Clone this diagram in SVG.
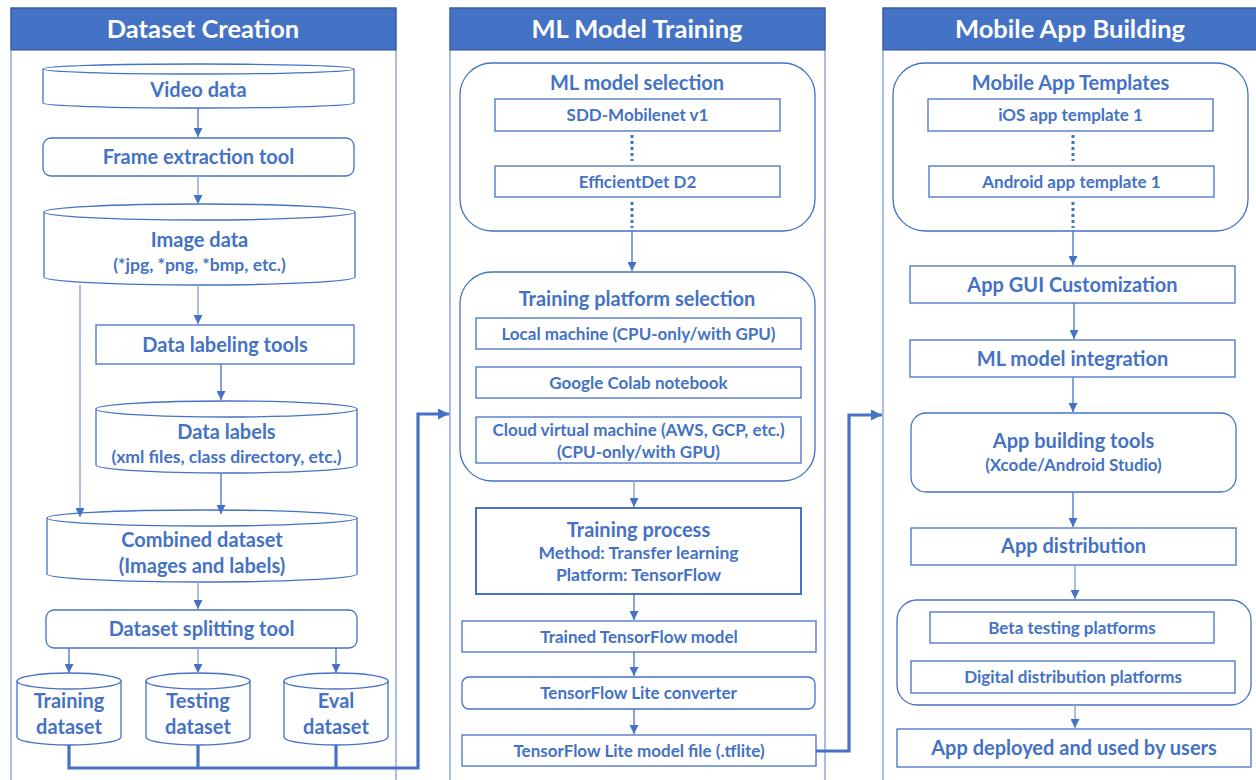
<svg xmlns="http://www.w3.org/2000/svg" width="1256" height="780" viewBox="0 0 1256 780">
<style>
text{font-family:Lato,"Liberation Sans",sans-serif;font-weight:bold;fill:#4472C4;text-anchor:middle}
.hd{fill:#fff;font-size:25.5px}
.t{font-size:20px}
.s{font-size:17.5px}
.m{font-size:17px}
.b{fill:#fff;stroke:#4472C4;stroke-width:1.3}
.b2{fill:#fff;stroke:#4472C4;stroke-width:2}
.pan{fill:#fff;stroke:#8EA9DB;stroke-width:1.5}
.hdr{fill:#4472C4;stroke:#2F528F;stroke-width:1}
.c{fill:none;stroke:#4472C4;stroke-width:1.3}
.cl{fill:none;stroke:#8EA9DB;stroke-width:1.5}
.dot{fill:none;stroke:#4472C4;stroke-width:3;stroke-dasharray:3 3}
.thick{fill:none;stroke:#4472C4;stroke-width:3.2}
</style>
<defs>
<marker id="a" viewBox="0 0 10 10" refX="10" refY="5" markerWidth="9" markerHeight="9" markerUnits="userSpaceOnUse" orient="auto"><path d="M0,0 L10,5 L0,10 z" fill="#4472C4"/></marker>
<marker id="A" viewBox="0 0 10 10" refX="10" refY="5" markerWidth="11" markerHeight="11" markerUnits="userSpaceOnUse" orient="auto"><path d="M0,0 L10,5 L0,10 z" fill="#4472C4"/></marker>
</defs>

<g id="panels">
<rect class="pan" x="11" y="8" width="385" height="790"/>
<rect class="hdr" x="11" y="8" width="385" height="42"/>
<text class="hd" x="203" y="38">Dataset Creation</text>
<rect class="pan" x="450" y="8" width="375" height="790"/>
<rect class="hdr" x="450" y="8" width="375" height="42"/>
<text class="hd" x="637" y="38">ML Model Training</text>
<rect class="pan" x="883" y="8" width="390" height="790"/>
<rect class="hdr" x="883" y="8" width="390" height="42"/>
<text class="hd" x="1070" y="38">Mobile App Building</text>
</g>

<!-- Left column -->
<g id="video-data">
<path class="b" d="M43 69 V103 A155.5 5 0 0 0 354 103 V69"/>
<ellipse class="b" cx="198.5" cy="69" rx="155.5" ry="5"/>
<text class="t" x="198.5" y="97">Video data</text>
</g>
<g id="frame-extraction">
<rect class="b" x="43" y="138" width="311" height="38" rx="8"/>
<text class="t" x="198.5" y="164">Frame extraction tool</text>
</g>
<g id="image-data">
<path class="b" d="M44 212 V277 A155.5 8 0 0 0 355 277 V212"/>
<ellipse class="b" cx="199.5" cy="212" rx="155.5" ry="8"/>
<text class="t" x="199.5" y="246.5">Image data</text>
<text class="s" x="199.5" y="271">(*jpg, *png, *bmp, etc.)</text>
</g>
<g id="data-labeling">
<rect class="b" x="96" y="325" width="258" height="39"/>
<text class="t" x="225" y="351.5">Data labeling tools</text>
</g>
<g id="data-labels">
<path class="b" d="M96 409 V465 A130.5 8 0 0 0 357 465 V409"/>
<ellipse class="b" cx="226.5" cy="409" rx="130.5" ry="8"/>
<text class="t" x="226.5" y="439">Data labels</text>
<text class="s" x="226.5" y="462.5">(xml files, class directory, etc.)</text>
</g>
<g id="combined-dataset">
<path class="b" d="M47 518 V574 A155 8 0 0 0 357 574 V518"/>
<ellipse class="b" cx="202" cy="518" rx="155" ry="8"/>
<text class="t" x="202" y="547">Combined dataset</text>
<text class="t" x="202" y="572.5">(Images and labels)</text>
</g>
<g id="splitting-tool">
<rect class="b" x="46" y="610" width="311" height="38" rx="8"/>
<text class="t" x="201.5" y="636">Dataset splitting tool</text>
</g>
<g id="training-dataset">
<path class="b" d="M17 681 V737 A52 8 0 0 0 121 737 V681"/>
<ellipse class="b" cx="69" cy="681" rx="52" ry="8"/>
<text class="t" x="69" y="708">Training</text>
<text class="t" x="69" y="733.5">dataset</text>
</g>
<g id="testing-dataset">
<path class="b" d="M146 681 V737 A52 8 0 0 0 250 737 V681"/>
<ellipse class="b" cx="198" cy="681" rx="52" ry="8"/>
<text class="t" x="198" y="708">Testing</text>
<text class="t" x="198" y="733.5">dataset</text>
</g>
<g id="eval-dataset">
<path class="b" d="M284 681 V737 A52 8 0 0 0 388 737 V681"/>
<ellipse class="b" cx="336" cy="681" rx="52" ry="8"/>
<text class="t" x="336" y="708">Eval</text>
<text class="t" x="336" y="733.5">dataset</text>
</g>

<!-- Middle column -->
<g id="ml-model-selection">
<rect class="b" x="460" y="63" width="355" height="168" rx="32"/>
<text class="t" x="637" y="90">ML model selection</text>
</g>
<g id="sdd-mobilenet">
<rect class="b" x="495" y="99" width="285" height="32"/>
<text class="m" x="637.5" y="121">SDD-Mobilenet v1</text>
</g>
<g id="efficientdet">
<rect class="b" x="495" y="166" width="285" height="31"/>
<text class="m" x="637.5" y="187.5">EfficientDet D2</text>
</g>
<g id="training-platform-selection">
<rect class="b" x="460" y="272" width="355" height="209" rx="32"/>
<text class="t" x="637" y="306">Training platform selection</text>
</g>
<g id="local-machine">
<rect class="b" x="476" y="318" width="325" height="31"/>
<text class="m" x="638.5" y="339.5">Local machine (CPU-only/with GPU)</text>
</g>
<g id="google-colab">
<rect class="b" x="476" y="367" width="325" height="31"/>
<text class="m" x="638.5" y="388.5">Google Colab notebook</text>
</g>
<g id="cloud-vm">
<rect class="b" x="476" y="417" width="325" height="46"/>
<text class="m" x="638.5" y="435.5">Cloud virtual machine (AWS, GCP, etc.)</text>
<text class="m" x="638.5" y="457.5">(CPU-only/with GPU)</text>
</g>
<g id="training-process">
<rect class="b2" x="476" y="508" width="325" height="86"/>
<text class="t" x="638.5" y="537">Training process</text>
<text class="s" x="638.5" y="559">Method: Transfer learning</text>
<text class="s" x="638.5" y="581">Platform: TensorFlow</text>
</g>
<g id="trained-model">
<rect class="b" x="462" y="621" width="354" height="31"/>
<text class="m" x="639" y="642.5">Trained TensorFlow model</text>
</g>
<g id="tflite-converter">
<rect class="b" x="462" y="677" width="353" height="32" rx="7"/>
<text class="m" x="638.5" y="699">TensorFlow Lite converter</text>
</g>
<g id="tflite-file">
<rect class="b" x="462" y="735" width="354" height="31"/>
<text class="m" x="639" y="756.5">TensorFlow Lite model file (.tflite)</text>
</g>

<!-- Right column -->
<g id="app-templates">
<rect class="b" x="893" y="63" width="355" height="168" rx="32"/>
<text class="t" x="1070.5" y="90">Mobile App Templates</text>
</g>
<g id="ios-template">
<rect class="b" x="928" y="99" width="285" height="32"/>
<text class="m" x="1070.5" y="121">iOS app template 1</text>
</g>
<g id="android-template">
<rect class="b" x="929" y="166" width="285" height="31"/>
<text class="m" x="1071.5" y="187.5">Android app template 1</text>
</g>
<g id="gui-customization">
<rect class="b" x="910" y="266" width="325" height="37"/>
<text class="t" x="1072.5" y="291.5">App GUI Customization</text>
</g>
<g id="ml-integration">
<rect class="b" x="910" y="340" width="325" height="37"/>
<text class="t" x="1072.5" y="365.5">ML model integration</text>
</g>
<g id="app-building-tools">
<rect class="b" x="911" y="413" width="325" height="79" rx="15"/>
<text class="t" x="1073.5" y="448">App building tools</text>
<text class="m" x="1073.5" y="471">(Xcode/Android Studio)</text>
</g>
<g id="app-distribution">
<rect class="b" x="911" y="528" width="325" height="37"/>
<text class="t" x="1073.5" y="553">App distribution</text>
</g>
<g id="distribution-platforms">
<rect class="b" x="897" y="600" width="354" height="105" rx="20"/>
</g>
<g id="beta-testing">
<rect class="b" x="930" y="612" width="284" height="31"/>
<text class="m" x="1072" y="633.5">Beta testing platforms</text>
</g>
<g id="digital-distribution">
<rect class="b" x="911" y="661" width="324" height="32"/>
<text class="m" x="1073" y="683">Digital distribution platforms</text>
</g>
<g id="app-deployed">
<rect class="b" x="897" y="729" width="354" height="38"/>
<text class="t" x="1074" y="755">App deployed and used by users</text>
</g>

<g id="connectors">
<path class="c" d="M198 108 V137" marker-end="url(#a)"/>
<path class="cl" d="M198 176 V204" marker-end="url(#a)"/>
<path class="cl" d="M198 285 V324" marker-end="url(#a)"/>
<path class="cl" d="M80 285 V517" marker-end="url(#a)"/>
<path class="c" d="M221 364 V400" marker-end="url(#a)"/>
<path class="c" d="M221 473 V514" marker-end="url(#a)"/>
<path class="cl" d="M198 582 V609" marker-end="url(#a)"/>
<path class="c" d="M69 648 V673" marker-end="url(#a)"/>
<path class="cl" d="M198 648 V673" marker-end="url(#a)"/>
<path class="c" d="M336 648 V673" marker-end="url(#a)"/>
<path class="thick" d="M69 745 V768 H418 V414 H449" marker-end="url(#A)"/>
<path class="thick" d="M198 745 V768"/>
<path class="thick" d="M336 745 V768"/>
<path class="dot" d="M632 135 V161"/>
<path class="dot" d="M632 202 V228"/>
<path class="c" d="M632 231 V271" marker-end="url(#a)"/>
<path class="cl" d="M634 481 V507" marker-end="url(#a)"/>
<path class="c" d="M634 594 V620" marker-end="url(#a)"/>
<path class="c" d="M634 652 V676" marker-end="url(#a)"/>
<path class="c" d="M634 709 V734" marker-end="url(#a)"/>
<path class="thick" d="M816 751 H849 V415 H882" marker-end="url(#A)"/>
<path class="dot" d="M1073 135 V161"/>
<path class="dot" d="M1073 202 V228"/>
<path class="c" d="M1073 231 V265" marker-end="url(#a)"/>
<path class="c" d="M1074 303 V339" marker-end="url(#a)"/>
<path class="c" d="M1073 377 V412" marker-end="url(#a)"/>
<path class="c" d="M1073 492 V527" marker-end="url(#a)"/>
<path class="cl" d="M1075 565 V599" marker-end="url(#a)"/>
<path class="cl" d="M1075 705 V728" marker-end="url(#a)"/>
</g>
</svg>
